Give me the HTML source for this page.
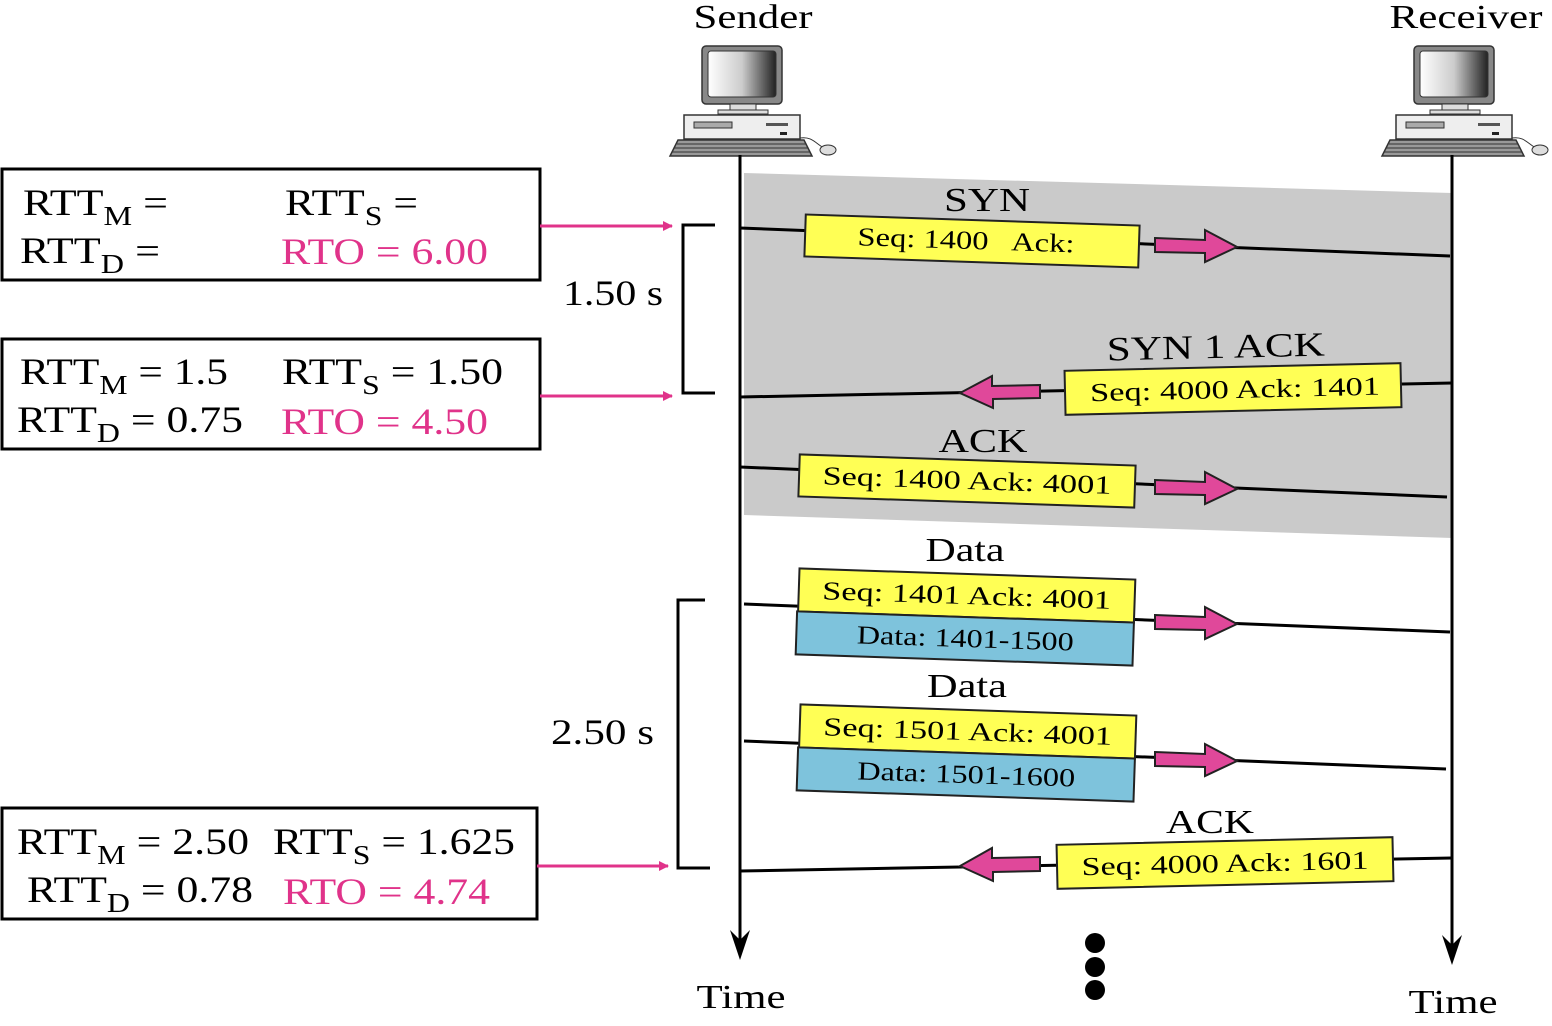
<!DOCTYPE html>
<html><head><meta charset="utf-8"><style>
html,body{margin:0;padding:0;background:#fff;}
svg{display:block;}
text{font-family:"Liberation Serif",serif;}
</style></head><body>
<svg width="1552" height="1026" viewBox="0 0 1552 1026" xmlns="http://www.w3.org/2000/svg">
<defs>
<g id="pc">
  <rect x="-38" y="0" width="80" height="58" rx="4" fill="#888" stroke="#333" stroke-width="1.5"/>
  <rect x="-32" y="5" width="68" height="46" rx="3" fill="url(#scr)" stroke="#333"/>
  <rect x="-10" y="58" width="26" height="6" fill="#ddd" stroke="#333"/>
  <rect x="-22" y="64" width="50" height="4" fill="#ddd" stroke="#333"/>
  <rect x="-56" y="69" width="116" height="24" fill="#eee" stroke="#333" stroke-width="1.5"/>
  <rect x="-46" y="76" width="38" height="6" fill="#aaa" stroke="#333"/>
  <rect x="26" y="77" width="22" height="3" fill="#555"/>
  <rect x="40" y="86" width="7" height="3" fill="#222"/>
  <polygon points="-62,94 64,94 72,110 -70,110" fill="#999" stroke="#333" stroke-width="1.5"/>
  <path d="M-63 98 H66 M-66 102 H68 M-68 106 H70" stroke="#333" stroke-width="1"/>
  <path d="M60 92 C72 90 76 98 84 102" stroke="#333" fill="none"/>
  <ellipse cx="88" cy="104" rx="8" ry="5" fill="#ddd" stroke="#333"/>
</g>
<linearGradient id="scr" x1="0" x2="1"><stop offset="0" stop-color="#fff"/><stop offset="0.5" stop-color="#ccc"/><stop offset="1" stop-color="#222"/></linearGradient>
<marker id="pa" markerWidth="10" markerHeight="10" refX="9" refY="5" orient="auto" markerUnits="userSpaceOnUse"><polygon points="0,0 10,5 0,10" fill="#e0338a"/></marker>
</defs>

<polygon points="744,173 1452,193 1452,538 744,515" fill="#cacaca"/>

<text x="753" y="28" font-size="34" text-anchor="middle" textLength="119" lengthAdjust="spacingAndGlyphs">Sender</text>
<text x="1466" y="28" font-size="34" text-anchor="middle" textLength="153" lengthAdjust="spacingAndGlyphs">Receiver</text>
<use href="#pc" x="740" y="46"/>
<use href="#pc" x="1452" y="46"/>

<line x1="740" y1="155" x2="740" y2="945" stroke="#000" stroke-width="3"/>
<polygon points="730,930 740,960 750,930 740,940" fill="#000"/>
<line x1="1452" y1="155" x2="1452" y2="950" stroke="#000" stroke-width="3"/>
<polygon points="1442,935 1452,965 1462,935 1452,945" fill="#000"/>
<text x="741" y="1008" font-size="34" text-anchor="middle" textLength="89" lengthAdjust="spacingAndGlyphs">Time</text>
<text x="1453" y="1013" font-size="34" text-anchor="middle" textLength="89" lengthAdjust="spacingAndGlyphs">Time</text>
<circle cx="1095" cy="943" r="10"/><circle cx="1095" cy="967" r="10"/><circle cx="1095" cy="990" r="10"/>

<g stroke="#000" stroke-width="3">
<line x1="740" y1="228" x2="1450" y2="256"/>
<line x1="740" y1="397" x2="1452" y2="383"/>
<line x1="740" y1="467" x2="1447" y2="497"/>
<line x1="744" y1="604" x2="1450" y2="632"/>
<line x1="744" y1="741" x2="1446" y2="769"/>
<line x1="740" y1="871" x2="1452" y2="858"/>
</g>

<g fill="#e0489a" stroke="#222" stroke-width="2">
<polygon points="1155,238 1205,240 1205,230 1237,247 1205,262 1205,253 1155,252"/>
<polygon points="1155,480 1205,482 1205,472 1237,489 1205,504 1205,495 1155,494"/>
<polygon points="1155,615 1205,617 1205,607 1237,624 1205,639 1205,630 1155,629"/>
<polygon points="1155,752 1205,754 1205,744 1237,761 1205,776 1205,767 1155,766"/>
<polygon points="1040,385 992,386 992,376 960,393 993,408 993,399 1040,398"/>
<polygon points="1040,857 992,858 992,848 960,866 993,881 993,872 1040,871"/>
</g>

<g font-size="34" text-anchor="middle" lengthAdjust="spacingAndGlyphs">
<text x="987" y="211" textLength="86" lengthAdjust="spacingAndGlyphs">SYN</text>
<text x="1216" y="358" textLength="218" lengthAdjust="spacingAndGlyphs" transform="rotate(-1.3 1216 358)">SYN 1 ACK</text>
<text x="983" y="452" textLength="89" lengthAdjust="spacingAndGlyphs">ACK</text>
<text x="965" y="561" textLength="79" lengthAdjust="spacingAndGlyphs">Data</text>
<text x="967" y="697" textLength="80" lengthAdjust="spacingAndGlyphs">Data</text>
<text x="1210" y="833" textLength="88" lengthAdjust="spacingAndGlyphs">ACK</text>
</g>

<g font-size="26" text-anchor="middle" stroke-width="2">
<g transform="translate(972,241) rotate(1.9)"><rect x="-167" y="-21" width="334" height="42" fill="#ffff55" stroke="#222"/><text x="-6" y="8" stroke="none" textLength="217" lengthAdjust="spacingAndGlyphs" xml:space="preserve">Seq: 1400   Ack:</text></g>
<g transform="translate(1233,389) rotate(-1.3)"><rect x="-168" y="-22" width="336" height="44" fill="#ffff55" stroke="#222"/><text x="2" y="9" stroke="none" textLength="290" lengthAdjust="spacingAndGlyphs">Seq: 4000   Ack: 1401</text></g>
<g transform="translate(967,481) rotate(1.9)"><rect x="-168" y="-21" width="336" height="42" fill="#ffff55" stroke="#222"/><text x="0" y="8" stroke="none" textLength="289" lengthAdjust="spacingAndGlyphs">Seq: 1400   Ack: 4001</text></g>
<g transform="translate(966,617) rotate(1.9)"><rect x="-168" y="-43" width="336" height="43" fill="#ffff55" stroke="#222"/><rect x="-169" y="0" width="337" height="43" fill="#7ec3dc" stroke="#222"/><text x="0" y="-13" stroke="none" textLength="289" lengthAdjust="spacingAndGlyphs">Seq: 1401   Ack: 4001</text><text x="0" y="30" stroke="none" textLength="217" lengthAdjust="spacingAndGlyphs">Data: 1401-1500</text></g>
<g transform="translate(967,753) rotate(1.9)"><rect x="-168" y="-43" width="336" height="43" fill="#ffff55" stroke="#222"/><rect x="-169" y="0" width="337" height="43" fill="#7ec3dc" stroke="#222"/><text x="0" y="-13" stroke="none" textLength="289" lengthAdjust="spacingAndGlyphs">Seq: 1501   Ack: 4001</text><text x="0" y="30" stroke="none" textLength="218" lengthAdjust="spacingAndGlyphs">Data: 1501-1600</text></g>
<g transform="translate(1225,863) rotate(-1.3)"><rect x="-168" y="-22" width="336" height="44" fill="#ffff55" stroke="#222"/><text x="0" y="9" stroke="none" textLength="287" lengthAdjust="spacingAndGlyphs">Seq: 4000   Ack: 1601</text></g>
</g>

<g fill="none" stroke="#000" stroke-width="3">
<rect x="2" y="169" width="538" height="111"/>
<rect x="2" y="339" width="538" height="110"/>
<rect x="2" y="808" width="535" height="111"/>
<polyline points="715,225 683,225 683,393 715,393"/>
<polyline points="705,600 678,600 678,868 710,868"/>
</g>
<g stroke="#e0338a" stroke-width="3" marker-end="url(#pa)">
<line x1="540" y1="226" x2="672" y2="226"/>
<line x1="540" y1="396" x2="672" y2="396"/>
<line x1="537" y1="866" x2="668" y2="866"/>
</g>
<text x="563" y="305" font-size="36" textLength="100" lengthAdjust="spacingAndGlyphs">1.50 s</text>
<text x="551" y="744" font-size="36" textLength="103" lengthAdjust="spacingAndGlyphs">2.50 s</text>

<g font-size="37">
<text x="23" y="215" textLength="145" lengthAdjust="spacingAndGlyphs">RTT<tspan font-size="27" dy="10">M</tspan><tspan dy="-10"> =</tspan></text>
<text x="285" y="215" textLength="133" lengthAdjust="spacingAndGlyphs">RTT<tspan font-size="27" dy="10">S</tspan><tspan dy="-10"> =</tspan></text>
<text x="20" y="263" textLength="140" lengthAdjust="spacingAndGlyphs">RTT<tspan font-size="27" dy="10">D</tspan><tspan dy="-10"> =</tspan></text>
<text x="281" y="264" fill="#e0338a" textLength="207" lengthAdjust="spacingAndGlyphs">RTO = 6.00</text>

<text x="20" y="384" textLength="208" lengthAdjust="spacingAndGlyphs">RTT<tspan font-size="27" dy="10">M</tspan><tspan dy="-10"> = 1.5</tspan></text>
<text x="282" y="384" textLength="221" lengthAdjust="spacingAndGlyphs">RTT<tspan font-size="27" dy="10">S</tspan><tspan dy="-10"> = 1.50</tspan></text>
<text x="17" y="432" textLength="226" lengthAdjust="spacingAndGlyphs">RTT<tspan font-size="27" dy="10">D</tspan><tspan dy="-10"> = 0.75</tspan></text>
<text x="281" y="434" fill="#e0338a" textLength="207" lengthAdjust="spacingAndGlyphs">RTO = 4.50</text>

<text x="17" y="854" textLength="232" lengthAdjust="spacingAndGlyphs">RTT<tspan font-size="27" dy="10">M</tspan><tspan dy="-10"> = 2.50</tspan></text>
<text x="273" y="854" textLength="242" lengthAdjust="spacingAndGlyphs">RTT<tspan font-size="27" dy="10">S</tspan><tspan dy="-10"> = 1.625</tspan></text>
<text x="27" y="902" textLength="226" lengthAdjust="spacingAndGlyphs">RTT<tspan font-size="27" dy="10">D</tspan><tspan dy="-10"> = 0.78</tspan></text>
<text x="283" y="904" fill="#e0338a" textLength="207" lengthAdjust="spacingAndGlyphs">RTO = 4.74</text>
</g>
</svg>
</body></html>
